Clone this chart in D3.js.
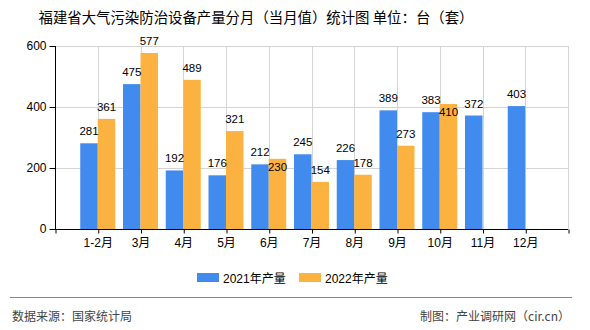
<!DOCTYPE html>
<html><head><meta charset="utf-8">
<script src="https://cdn.jsdelivr.net/npm/d3@7/dist/d3.min.js"></script>
<style>
body{margin:0;background:#fff;}
svg{display:block;}
</style></head>
<body><div id="chart"></div>
<script>
const categories = ["1-2月","3月","4月","5月","6月","7月","8月","9月","10月","11月","12月"];
const series2021 = [281,475,192,176,212,245,226,389,383,372,403];
const series2022 = [361,577,489,321,230,154,178,273,410,null,null];
const seriesNames = ["2021年产量","2022年产量"];
const yTicks = [0,200,400,600];
const colors = ["#418BEE","#FBB241"];
const titleText = "福建省大气污染防治设备产量分月（当月值）统计图 单位：台（套）";
const sourceText = "数据来源：国家统计局";
const creditText = "制图：产业调研网（cir.cn）";

const W = 590, H = 330;
const L = 55, R = 568, T = 46, B = 229;
const numFont = "'Liberation Sans', Arial, sans-serif";
const cjkFont = "'Liberation Sans','Noto Sans CJK SC', sans-serif";

const svg = d3.select("#chart").append("svg").attr("width", W).attr("height", H);

const x = d3.scaleLinear().domain([-1, categories.length]).range([L, R]);
const y = d3.scaleLinear().domain([0, 600]).range([B, T]);

// title
svg.append("text").attr("x", 256).attr("y", 23).attr("text-anchor", "middle")
  .style("font-family", "'Noto Sans CJK SC', sans-serif").style("font-size", "14.4px").attr("fill", "#000")
  .text(titleText);

// grid
const grid = svg.append("g");
grid.selectAll("line.h").data(yTicks.filter(d => d > 0)).join("line")
  .attr("x1", L).attr("x2", R).attr("y1", d => Math.round(y(d)) + 0.5).attr("y2", d => Math.round(y(d)) + 0.5)
  .attr("stroke", "#d4d4d4").attr("stroke-width", 1);
grid.selectAll("line.v").data(d3.range(0, categories.length + 1)).join("line")
  .attr("x1", d => Math.round(x(d)) + 0.5).attr("x2", d => Math.round(x(d)) + 0.5)
  .attr("y1", T).attr("y2", B)
  .attr("stroke", "#d4d4d4").attr("stroke-width", 1);

// bars
const bw = 17.5;
const bars = svg.append("g");
bars.selectAll("rect.a").data(series2021.map((v, i) => ({v, i})).filter(d => d.v != null)).join("rect")
  .attr("x", d => x(d.i) - bw).attr("width", bw)
  .attr("y", d => y(d.v)).attr("height", d => y(0) - y(d.v))
  .attr("fill", colors[0]);
bars.selectAll("rect.b").data(series2022.map((v, i) => ({v, i})).filter(d => d.v != null)).join("rect")
  .attr("x", d => x(d.i)).attr("width", bw)
  .attr("y", d => y(d.v)).attr("height", d => y(0) - y(d.v))
  .attr("fill", colors[1]);

// value labels
const lab = svg.append("g").style("font-family", numFont).style("font-size", "11.5px").attr("fill", "#000");
series2021.forEach((v, i) => {
  if (v == null) return;
  lab.append("text").attr("x", x(i) - bw / 2).attr("y", y(v) - 8).attr("text-anchor", "middle").text(v);
});
series2022.forEach((v, i) => {
  if (v == null) return;
  const other = series2021[i];
  const inside = other != null && v > other && (v - other) < 40;
  lab.append("text").attr("x", x(i) + bw / 2).attr("y", inside ? y(v) + 12.5 : y(v) - 8)
    .attr("text-anchor", "middle").text(v);
});

// axes
const yAxis = svg.append("g").attr("transform", `translate(${L + 0.5},0)`)
  .call(d3.axisLeft(y).tickValues(yTicks).tickSize(6).tickPadding(3).tickFormat(d3.format("d")));
yAxis.selectAll("text").style("font-family", numFont).style("font-size", "12px").attr("fill", "#000");
yAxis.selectAll("line,path").attr("stroke", "#000");
yAxis.select(".domain").attr("d", `M0,${B}V${T}`);

const xAxis = svg.append("g").attr("transform", `translate(0,${B + 0.5})`)
  .call(d3.axisBottom(x).tickValues(d3.range(-1, categories.length + 1)).tickSize(4).tickPadding(5)
    .tickFormat(d => (d >= 0 && d < categories.length) ? categories[d] : ""));
xAxis.selectAll("text").style("font-family", cjkFont).style("font-size", "12px").attr("fill", "#000");
xAxis.selectAll("line,path").attr("stroke", "#000");
xAxis.select(".domain").attr("d", `M${L},0H${R}`);
xAxis.selectAll(".tick line").attr("transform", "translate(0.5,0)");

// legend
const leg = svg.append("g");
const legX = [197, 299];
seriesNames.forEach((n, k) => {
  leg.append("rect").attr("x", legX[k]).attr("y", 273).attr("width", 22).attr("height", 9).attr("fill", colors[k]);
  leg.append("text").attr("x", legX[k] + 26).attr("y", 283).style("font-family", cjkFont).style("font-size", "12px")
    .attr("fill", "#000").text(n);
});

// footer
svg.append("line").attr("x1", 10).attr("x2", 572).attr("y1", 297.5).attr("y2", 297.5).attr("stroke", "#888").attr("stroke-width", 1);
svg.append("text").attr("x", 12).attr("y", 321).style("font-family", "'Noto Sans CJK SC', sans-serif").style("font-size", "12px")
  .attr("fill", "#444").text(sourceText);
svg.append("text").attr("x", 570).attr("y", 321).attr("text-anchor", "end").style("font-family", "'Noto Sans CJK SC', sans-serif").style("font-size", "12px")
  .attr("fill", "#444").text(creditText);
</script></body></html>
